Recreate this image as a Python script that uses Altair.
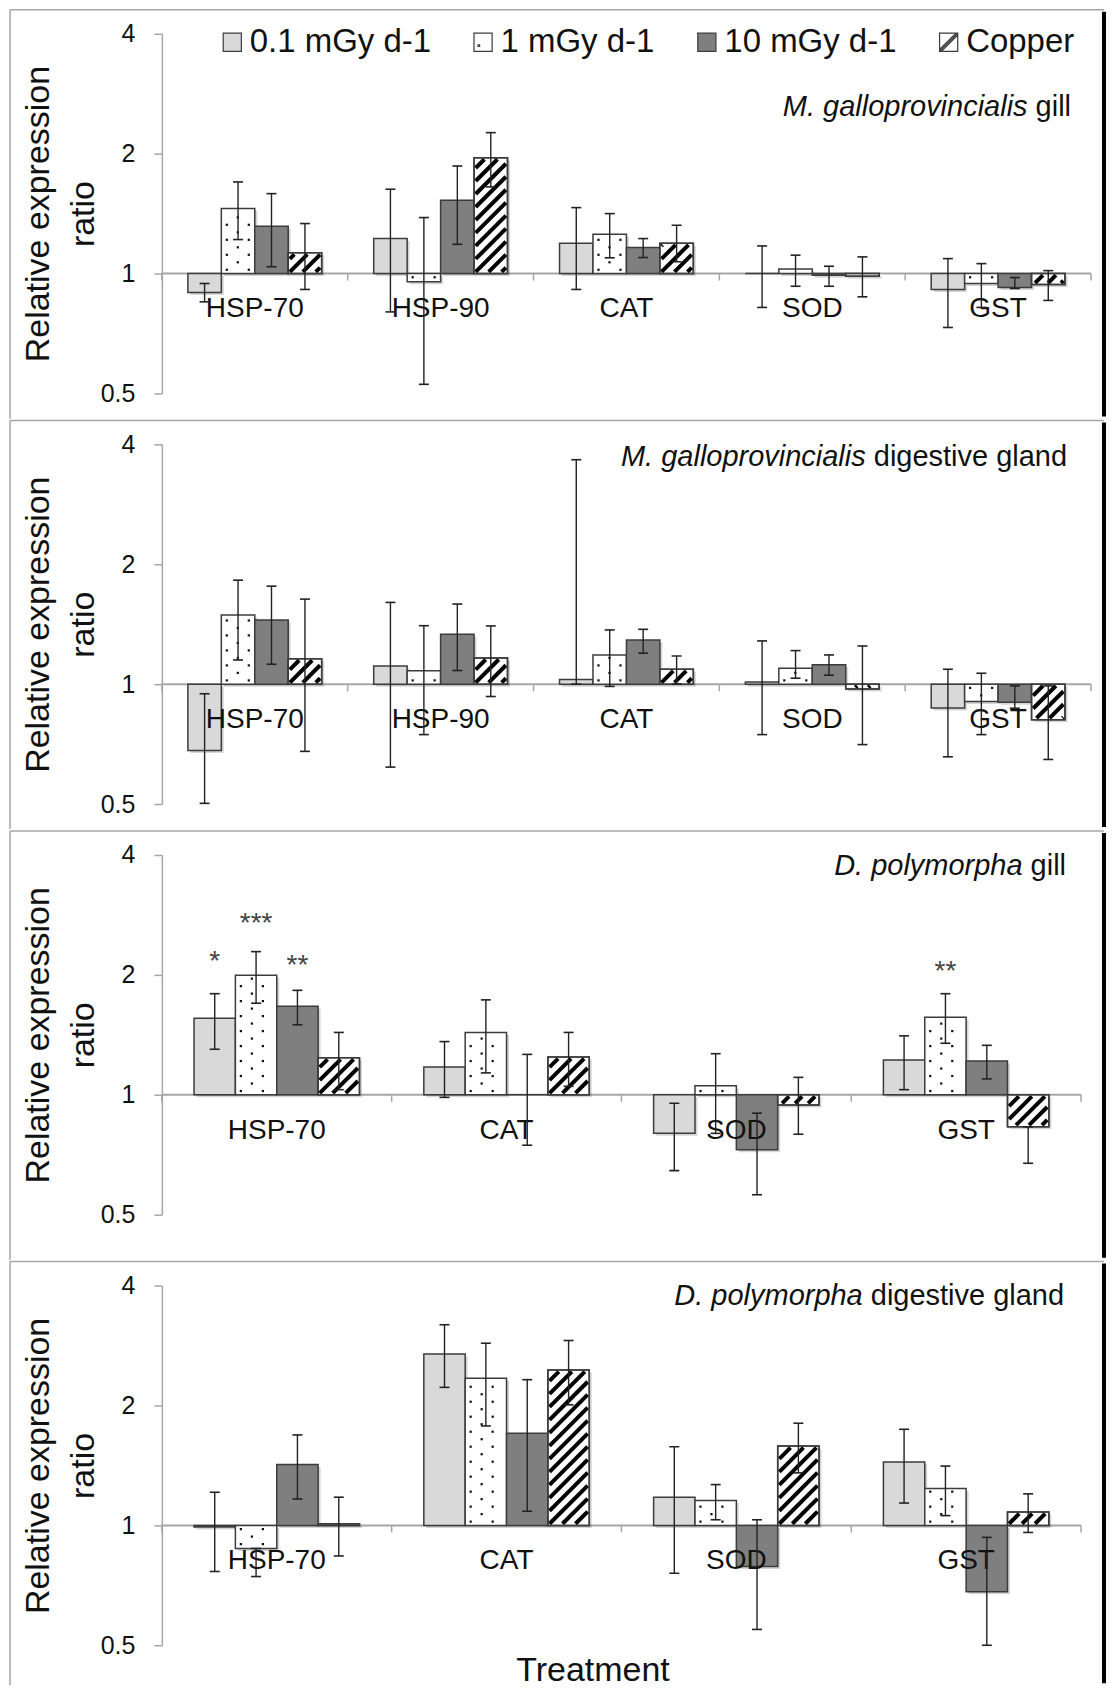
import math
import altair as alt
import pandas as pd

# ---------------- data ----------------
TREATMENTS = ["0.1 mGy d-1", "1 mGy d-1", "10 mGy d-1", "Copper"]
GENES_MG = ["HSP-70", "HSP-90", "CAT", "SOD", "GST"]
GENES_DP = ["HSP-70", "CAT", "SOD", "GST"]

# rows = treatments, columns = genes
MG_GILL_VAL = [[0.896, 1.224, 1.191, 1.000, 0.912],
               [1.456, 0.953, 1.255, 1.027, 0.944],
               [1.314, 1.527, 1.162, 0.990, 0.922],
               [1.127, 1.954, 1.191, 0.985, 0.938]]
MG_GILL_LO = [[0.849, 0.801, 0.912, 0.822, 0.732],
              [1.217, 0.527, 1.095, 0.929, 0.822],
              [1.040, 1.184, 1.097, 0.929, 0.917],
              [0.912, 1.650, 1.070, 0.874, 0.856]]
MG_GILL_HI = [[0.944, 1.628, 1.464, 1.173, 1.090],
              [1.698, 1.382, 1.414, 1.112, 1.059],
              [1.587, 1.862, 1.224, 1.043, 0.977],
              [1.335, 2.258, 1.322, 1.101, 1.017]]

MG_DG_VAL = [[0.681, 1.111, 1.027, 1.013, 0.871],
             [1.491, 1.080, 1.184, 1.097, 0.905],
             [1.449, 1.334, 1.291, 1.118, 0.900],
             [1.159, 1.164, 1.090, 0.972, 0.814]]
MG_DG_LO = [[0.502, 0.619, 1.000, 0.747, 0.657],
            [1.150, 0.747, 0.987, 1.035, 0.747],
            [1.122, 1.082, 1.196, 1.053, 0.870],
            [0.678, 0.931, 1.000, 0.705, 0.647]]
MG_DG_HI = [[0.946, 1.604, 3.660, 1.284, 1.090],
            [1.824, 1.402, 1.368, 1.214, 1.065],
            [1.762, 1.589, 1.373, 1.184, 0.990],
            [1.635, 1.400, 1.177, 1.247, 0.990]]

DP_GILL_VAL = [[1.556, 1.175, 0.800, 1.222],
               [1.996, 1.434, 1.054, 1.565],
               [1.669, 1.000, 0.728, 1.215],
               [1.239, 1.244, 0.943, 0.831]]
DP_GILL_LO = [[1.301, 0.985, 0.645, 1.030],
              [1.698, 1.135, 0.800, 1.347],
              [1.499, 0.747, 0.561, 1.096],
              [1.030, 1.050, 0.796, 0.673]]
DP_GILL_HI = [[1.794, 1.360, 0.952, 1.406],
              [2.288, 1.731, 1.268, 1.794],
              [1.829, 1.263, 0.899, 1.331],
              [1.434, 1.434, 1.106, 0.831]]
# significance marks: (gene, treatment index, label, height on the ratio axis)
DP_GILL_STARS = [("HSP-70", 0, "*", 2.26), ("HSP-70", 1, "***", 2.81),
                 ("HSP-70", 2, "**", 2.2), ("GST", 1, "**", 2.13)]

DP_DG_VAL = [[0.990, 2.695, 1.177, 1.442],
             [0.875, 2.340, 1.154, 1.237],
             [1.422, 1.703, 0.788, 0.681],
             [1.010, 2.456, 1.582, 1.080]]
DP_DG_LO = [[0.766, 2.221, 0.758, 1.138],
            [0.744, 1.777, 1.033, 1.058],
            [1.165, 1.085, 0.548, 0.500],
            [0.838, 2.008, 1.355, 0.960]]
DP_DG_HI = [[1.211, 3.190, 1.576, 1.743],
            [0.875, 2.867, 1.266, 1.409],
            [1.687, 2.322, 1.033, 0.933],
            [1.177, 2.912, 1.805, 1.200]]

# ---------------- style ----------------
FONT = "Liberation Sans"
H = 360
PXD = H / 3.0          # pixels per doubling
BAR_W = 0.18           # bar width in gene units
FILLS = ["#d9d9d9", "#ffffff", "#7f7f7f", "#ffffff"]
EDGE = "#3c3c3c"
GRAY = "#a6a6a6"
INK = "#111111"
FRAME_L, FRAME_R = -152, 943
ANN_SIZE = 29

SQ = "M-1,-1L1,-1L1,1L-1,1Z"
SHAPES = [SQ,
          SQ + " M-0.55,0.3L-0.38,0.3L-0.38,0.47L-0.55,0.47Z",
          SQ,
          SQ + " M-1,1L1,-1 M-0.8,1L1,-0.8 M-1,0.8L0.8,-1"]

CW = {" ": 278, "a": 556, "d": 556, "e": 556, "g": 556, "i": 222, "l": 222,
      "n": 556, "s": 500, "t": 278, "v": 500}


def text_w(s, size):
    return sum(CW.get(c, 556) for c in s) * size / 1000.0


def log2(v):
    return math.log(v, 2)


def patterns(df, W, n):
    pxx = W / n
    bw = BAR_W * pxx
    dots, stripes = [], []
    for r in df.itertuples():
        v = log2(r.val) * PXD
        lo_px, hi_px = min(0.0, v), max(0.0, v)
        h = hi_px - lo_px
        if r.t == 1:
            k = 0
            while 3.75 + 7.5 * k <= h - 2.5:
                yy = 3.75 + 7.5 * k
                ypx = yy if v >= 0 else -yy
                xx = 5.5 + 11 * (k % 2)
                while xx <= bw - 3:
                    dots.append(dict(x=r.x0 + xx / pxx, y=2 ** (ypx / PXD)))
                    xx += 22
                k += 1
        if r.t == 3:
            ins = 1.6
            xa, xb = ins, bw - ins
            ya, yb = lo_px + ins, hi_px - ins
            if yb - ya > 1:
                step = 13.0
                c = math.floor((ya - xb) / step) * step
                while c <= yb - xa:
                    s0 = max(xa, ya - c)
                    e0 = min(xb, yb - c)
                    if e0 - s0 > 0.8:
                        stripes.append(dict(xa=r.x0 + s0 / pxx, xb=r.x0 + e0 / pxx,
                                            ya=2 ** ((s0 + c) / PXD),
                                            yb=2 ** ((e0 + c) / PXD)))
                    c += step
    return pd.DataFrame(dots), pd.DataFrame(stripes)


def panel(genes, vals, los, his, W, italic, roman, ann_x, ann_y, bottom_ext,
          stars=None, legend=False, xtitle=None):
    n = len(genes)
    pxx = W / n
    sh_dx = 2.5 / pxx
    sh_k = 2 ** (-2.5 / PXD)
    rows = []
    for t, tr in enumerate(TREATMENTS):
        for g, gene in enumerate(genes):
            x0 = g + 0.5 + (t - 2) * BAR_W
            rows.append(dict(treatment=tr, t=t, gene=gene, g=g, x0=x0,
                             x1=x0 + BAR_W, xc=x0 + BAR_W / 2,
                             val=vals[t][g], lo=los[t][g], hi=his[t][g],
                             base=1.0, fillc=FILLS[t],
                             sx0=x0 + sh_dx, sx1=x0 + BAR_W + sh_dx,
                             sv=vals[t][g] * sh_k, sb=sh_k))
    df = pd.DataFrame(rows)
    caps = pd.concat([df[["xc", "lo"]].rename(columns={"lo": "y"}),
                      df[["xc", "hi"]].rename(columns={"hi": "y"})])
    dots, stripes = patterns(df, W, n)

    xs = alt.Scale(domain=[0, n], nice=False, zero=False)
    ys = alt.Scale(type="log", base=2, domain=[0.5, 4], nice=False)

    yaxis = alt.Axis(values=[0.5, 1, 2, 4], format="~g", grid=False,
                     domainColor=GRAY, domainWidth=1.5, tickColor=GRAY,
                     tickWidth=1.5, tickSize=8, labelFont=FONT,
                     labelFontSize=25, labelColor=INK, labelPadding=19,
                     title=["Relative expression", "ratio"], titleFont=FONT,
                     titleFontSize=34, titleFontWeight="normal",
                     titleColor=INK, titleX=-123, titleY=H / 2,
                     titleAngle=270, titleAlign="center",
                     titleBaseline="middle", titleLineHeight=45)
    if xtitle:
        xaxis = alt.Axis(title=xtitle, labels=False, ticks=False,
                         domain=False, grid=False, titleFont=FONT,
                         titleFontSize=34, titleFontWeight="normal",
                         titleColor=INK, titlePadding=8, titleX=431,
                         titleAlign="center")
    else:
        xaxis = None

    def X(f):
        return alt.X(f, type="quantitative", scale=xs, axis=xaxis)

    def Y(f):
        return alt.Y(f, type="quantitative", scale=ys, axis=yaxis)

    one = pd.DataFrame({"a": [1]})
    layers = []
    # frame
    layers.append(alt.Chart(one).mark_rule(color=GRAY, strokeWidth=1.5).encode(
        x=alt.value(FRAME_L), x2=alt.value(FRAME_R), y=alt.value(-24)))
    layers.append(alt.Chart(one).mark_rule(color=GRAY, strokeWidth=1.5).encode(
        x=alt.value(FRAME_L), y=alt.value(-24), y2=alt.value(H + bottom_ext)))
    layers.append(alt.Chart(one).mark_rule(color="#000000", strokeWidth=4).encode(
        x=alt.value(FRAME_R), y=alt.value(-22), y2=alt.value(H + bottom_ext - 2)))
    # baseline and category ticks
    base_df = pd.DataFrame({"a": [0], "b": [n], "one": [1.0]})
    layers.append(alt.Chart(base_df).mark_rule(color=GRAY, strokeWidth=2).encode(
        x=X("a:Q"), x2="b:Q", y=Y("one:Q")))
    tick_df = pd.DataFrame({"gb": list(range(n + 1)), "one": 1.0, "tk": 0.96})
    layers.append(alt.Chart(tick_df).mark_rule(color=GRAY, strokeWidth=1.5).encode(
        x=X("gb:Q"), y=Y("one:Q"), y2="tk:Q"))
    # soft shadows
    layers.append(alt.Chart(df).mark_rect(color="#000000", opacity=0.16).encode(
        x=X("sx0:Q"), x2="sx1:Q", y=Y("sv:Q"), y2="sb:Q"))
    # bars
    layers.append(alt.Chart(df).mark_rect(stroke=EDGE, strokeWidth=1.5).encode(
        x=X("x0:Q"), x2="x1:Q", y=Y("val:Q"), y2="base:Q",
        fill=alt.Fill("fillc:N", scale=None)))
    # dot pattern
    if len(dots):
        layers.append(alt.Chart(dots).mark_square(size=5, color="#111111",
                                                  opacity=1).encode(
            x=X("x:Q"), y=Y("y:Q")))
    # hatch pattern
    if len(stripes):
        layers.append(alt.Chart(stripes).mark_rule(
            color="#000000", strokeWidth=4, strokeCap="butt").encode(
            x=X("xa:Q"), x2="xb:Q", y=Y("ya:Q"), y2="yb:Q"))
        cu = df[df["t"] == 3]
        layers.append(alt.Chart(cu).mark_rect(
            stroke=EDGE, strokeWidth=1.5, fillOpacity=0).encode(
            x=X("x0:Q"), x2="x1:Q", y=Y("val:Q"), y2="base:Q"))
    # category labels (drawn over the bars, as in the original)
    lab_df = pd.DataFrame({"gene": genes, "gc": [g + 0.5 for g in range(n)],
                           "one": 1.0})
    layers.append(alt.Chart(lab_df).mark_text(
        font=FONT, fontSize=28, color=INK, baseline="middle", dy=36).encode(
        x=X("gc:Q"), y=Y("one:Q"), text="gene:N"))
    # error bars
    layers.append(alt.Chart(df).mark_rule(color="#222222", strokeWidth=1.4).encode(
        x=X("xc:Q"), y=Y("lo:Q"), y2="hi:Q"))
    layers.append(alt.Chart(caps).mark_tick(
        orient="horizontal", size=10, thickness=1.6, color="#222222",
        opacity=1).encode(x=X("xc:Q"), y=Y("y:Q")))
    # significance stars
    if stars:
        srows = []
        for gene, t, s, yv in stars:
            g = genes.index(gene)
            srows.append(dict(xc=g + 0.5 + (t - 1.5) * BAR_W, sy=yv, s=s))
        layers.append(alt.Chart(pd.DataFrame(srows)).mark_text(
            font=FONT, fontSize=28, color="#444444", baseline="alphabetic",
            dy=16).encode(x=X("xc:Q"), y=Y("sy:Q"), text="s:N"))
    # panel annotation
    rw = text_w(" " + roman, ANN_SIZE)
    layers.append(alt.Chart(one).mark_text(
        font=FONT, fontSize=ANN_SIZE, fontStyle="italic", align="right",
        baseline="middle", color=INK).encode(
        x=alt.value(ann_x - rw), y=alt.value(ann_y), text=alt.value(italic)))
    layers.append(alt.Chart(one).mark_text(
        font=FONT, fontSize=ANN_SIZE, align="right", baseline="middle",
        color=INK).encode(
        x=alt.value(ann_x), y=alt.value(ann_y), text=alt.value(roman)))
    # legend
    if legend:
        leg = alt.Legend(orient="none", legendX=54, legendY=-8,
                         direction="horizontal", columns=4, title=None,
                         gridAlign="none",
                         labelFont=FONT, labelFontSize=33, labelColor=INK,
                         labelOffset=1, labelLimit=400, columnPadding=35,
                         symbolSize=330, symbolStrokeWidth=1.2,
                         symbolStrokeColor="#333333", symbolOpacity=1)
        layers.append(alt.Chart(df).mark_point(opacity=0).encode(
            x=X("xc:Q"), y=Y("val:Q"),
            fill=alt.Fill("treatment:N", sort=TREATMENTS,
                          scale=alt.Scale(domain=TREATMENTS, range=FILLS),
                          legend=leg),
            shape=alt.Shape("treatment:N", sort=TREATMENTS,
                            scale=alt.Scale(domain=TREATMENTS, range=SHAPES),
                            legend=leg)))
    return alt.layer(*layers).properties(width=W, height=H)


p1 = panel(GENES_MG, MG_GILL_VAL, MG_GILL_LO, MG_GILL_HI, 930,
           "M. galloprovincialis", "gill", 910, 73, 25, legend=True)
p2 = panel(GENES_MG, MG_DG_VAL, MG_DG_LO, MG_DG_HI, 930,
           "M. galloprovincialis", "digestive gland", 906, 13, 25)
p3 = panel(GENES_DP, DP_GILL_VAL, DP_GILL_LO, DP_GILL_HI, 920,
           "D. polymorpha", "gill", 905, 11, 45, stars=DP_GILL_STARS)
p4 = panel(GENES_DP, DP_DG_VAL, DP_DG_LO, DP_DG_HI, 920,
           "D. polymorpha", "digestive gland", 903, 10, 40,
           xtitle="Treatment")

chart = alt.vconcat(p1, p2, p3, p4, spacing=0).properties(
    padding={"left": 1, "top": 0, "right": 0, "bottom": 0}
).configure_view(strokeWidth=0)

chart.save("out.html", embed_options={"renderer": "svg", "actions": False})
